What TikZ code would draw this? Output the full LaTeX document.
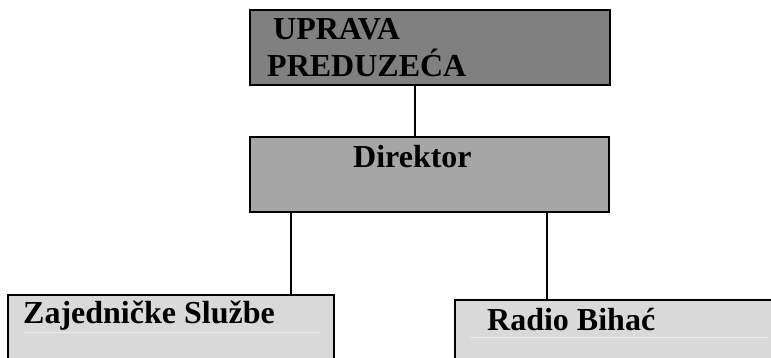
\documentclass[tikz,border=0pt]{standalone}
\usepackage{fontspec}
\setmainfont{Liberation Serif}
\begin{document}
\begin{tikzpicture}[x=1pt,y=-1pt,
  box/.style={draw=black,line width=2pt,rectangle,inner sep=0pt},
  lbl/.style={inner sep=0pt,anchor=base west,font=\fontsize{32}{35}\selectfont\bfseries},
  conn/.style={line width=2pt,draw=black},
  faint/.style={line width=1pt,draw=black!8}]
\useasboundingbox (0,0) rectangle (771,358);
\clip (0,0) rectangle (771,358);
\fill[white] (0,0) rectangle (771,358);
\node[box,fill=black!50,minimum width=360pt,minimum height=75pt] (upr) at (430,47.5) {};
\node[box,fill=black!35,minimum width=359pt,minimum height=75pt] (dir) at (429.5,174.5) {};
\node[box,fill=black!15,minimum width=326pt,minimum height=75pt] (zaj) at (171,332.5) {};
\node[box,fill=black!15,minimum width=330pt,minimum height=70pt] (rad) at (620,335) {};
\coordinate (c0) at (415,0);
\coordinate (c1) at (291,0);
\coordinate (c2) at (547,0);
\draw[conn] (upr.south -| c0) -- (dir.north -| c0);
\draw[conn] (dir.south -| c1) -- (zaj.north -| c1);
\draw[conn] (dir.south -| c2) -- (rad.north -| c2);
\node[lbl] (t1) at (273,40) {UPRAVA};
\node[lbl] (t2) at (267,77) {PREDUZEĆA};
\node[lbl] (t3) at (353,168) {Direktor};
\node[lbl] (t4) at (23,323) {Zajedničke Službe};
\node[lbl] (t5) at (487,330) {Radio Bihać};
\draw[faint] (23,332) -- (320,332);
\draw[faint] (470,337) -- (768,337);
\end{tikzpicture}
\end{document}
